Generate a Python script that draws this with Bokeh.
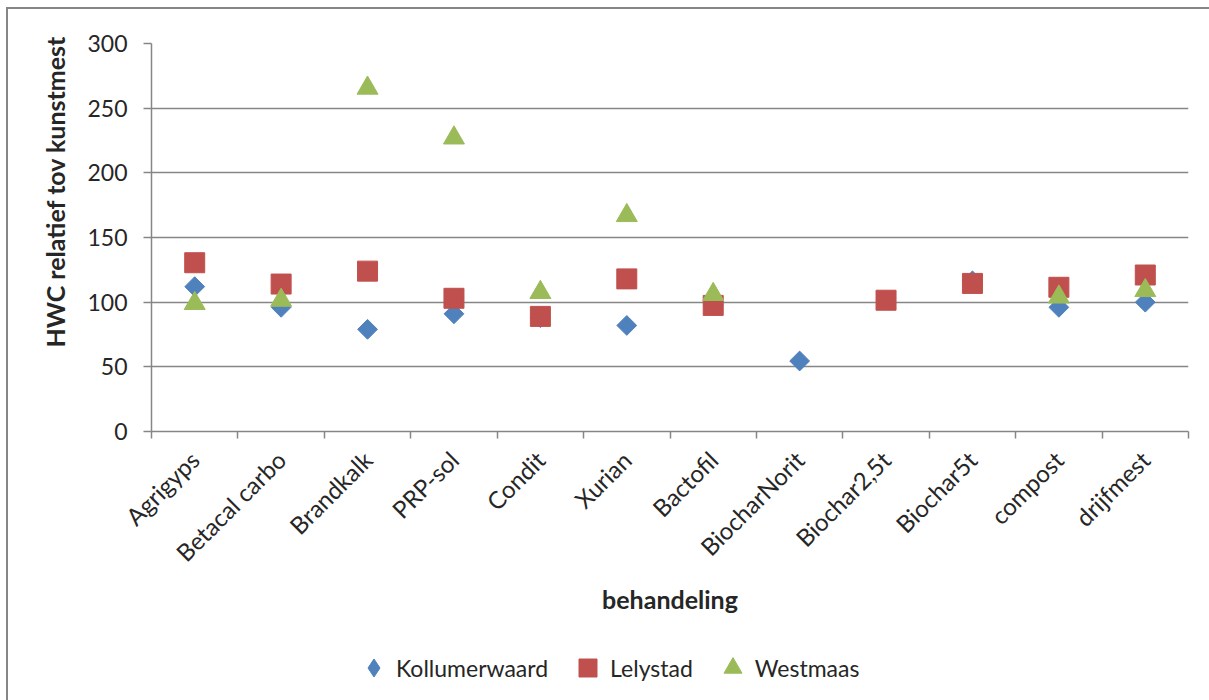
import math
import numpy as np
from bokeh.plotting import figure
from bokeh.layouts import column
from bokeh.models import (Range1d, LinearAxis, FixedTicker, Legend, LegendItem, Title,
                          ColumnDataSource)
from bokeh.embed import file_html
from bokeh.resources import INLINE

# ---------------- data ----------------
categories = ["Agrigyps", "Betacal carbo", "Brandkalk", "PRP-sol", "Condit", "Xurian",
              "Bactofil", "BiocharNorit", "Biochar2,5t", "Biochar5t", "compost", "drijfmest"]
kollumerwaard = [112, 96, 79, 91, 88, 82, 98, 54.5, np.nan, 116.5, 96, 100]
lelystad = [130.5, 114, 124, 103, 89, 118, 97.5, np.nan, 101.5, 114.5, 111.5, 121]
westmaas = [99, 101.5, 265.5, 227, 107.5, 167, 106, np.nan, np.nan, np.nan, 104, 109]
y_ticks = [0, 50, 100, 150, 200, 250, 300]
series_names = ["Kollumerwaard", "Lelystad", "Westmaas"]

FONT = "Lato"
TEXT = "#262626"
AXIS = "#868686"
COLORS = ["#4F81BD", "#C0504D", "#9BBB59"]
MARKERS = [("square", math.pi / 4, 14), ("square", 0, 20), ("triangle", 0, 21)]
LEGEND_MARKERS = ["diamond", "square", "triangle"]

n = len(categories)
centers = [i + 0.5 for i in range(n)]          # category slot centres
bounds = list(range(n + 1))                     # slot boundaries (tick marks)

p = figure(x_range=Range1d(0, n), y_range=Range1d(y_ticks[0], y_ticks[-1]),
           width=1201, height=622, output_backend="svg", toolbar_location=None,
           x_axis_location=None, y_axis_location="left",
           min_border_left=143, min_border_right=21, min_border_top=34, min_border_bottom=200)
p.outline_line_color = None
p.background_fill_color = "white"
p.border_fill_color = "white"

# y axis
p.yaxis.ticker = FixedTicker(ticks=y_ticks)
p.yaxis.axis_line_color = AXIS
p.yaxis.axis_line_width = 1.5
p.yaxis.major_tick_line_color = AXIS
p.yaxis.major_tick_line_width = 1.5
p.yaxis.major_tick_out = 8
p.yaxis.major_tick_in = 0
p.yaxis.minor_tick_line_color = None
p.yaxis.major_label_text_font = FONT
p.yaxis.major_label_text_font_size = "23px"
p.yaxis.major_label_text_color = TEXT
p.yaxis.major_label_standoff = 16
p.ygrid.grid_line_color = AXIS
p.ygrid.grid_line_width = 1.5
p.xgrid.visible = False

ytitle = Title(text="HWC relatief tov kunstmest", align="left", offset=84, standoff=30,
               text_font=FONT, text_font_style="bold", text_font_size="25px", text_color=TEXT)
p.add_layout(ytitle, "left")

# category axis: labels at slot centres, (minor) tick marks at slot boundaries
cat_axis = LinearAxis(ticker=FixedTicker(ticks=centers, minor_ticks=bounds),
                      major_label_overrides={c: name for c, name in zip(centers, categories)})
cat_axis.axis_line_color = AXIS
cat_axis.axis_line_width = 1.5
cat_axis.major_tick_line_color = None
cat_axis.major_tick_out = 7
cat_axis.major_tick_in = 0
cat_axis.minor_tick_line_color = AXIS
cat_axis.minor_tick_line_width = 1.5
cat_axis.minor_tick_out = 7
cat_axis.minor_tick_in = 0
cat_axis.major_label_orientation = math.pi / 4
cat_axis.major_label_text_font = FONT
cat_axis.major_label_text_font_size = "24px"
cat_axis.major_label_text_color = TEXT
cat_axis.major_label_standoff = 17
cat_axis.axis_label = "behandeling"
cat_axis.axis_label_text_font = FONT
cat_axis.axis_label_text_font_style = "bold"
cat_axis.axis_label_text_font_size = "25px"
cat_axis.axis_label_text_color = TEXT
cat_axis.axis_label_standoff = 4
p.add_layout(cat_axis, "below")

src = ColumnDataSource(dict(x=centers, k=kollumerwaard, l=lelystad, w=westmaas))
for col, color, (mk, ang, sz) in zip(["k", "l", "w"], COLORS, MARKERS):
    p.scatter("x", col, source=src, marker=mk, angle=ang, size=sz,
              fill_color=color, line_color=color)

# ---------------- legend strip ----------------
lg = figure(x_range=Range1d(0, n), y_range=Range1d(y_ticks[0], y_ticks[-1]),
            width=1201, height=69, output_backend="svg", toolbar_location=None,
            x_axis_location=None, y_axis_location=None, min_border=0)
lg.outline_line_color = None
lg.xgrid.visible = False
lg.ygrid.visible = False
items = []
for name, col, color, mk in zip(series_names, ["k", "l", "w"], COLORS, LEGEND_MARKERS):
    r = lg.scatter("x", col, source=src, marker=mk, size=18,
                   fill_color=color, line_color=color, visible=False)
    items.append(LegendItem(label=name, renderers=[r]))
legend = Legend(items=items, orientation="horizontal", location=(200, 10),
                glyph_width=45, glyph_height=45, label_standoff=-8, spacing=17,
                padding=0, margin=0, border_line_color=None, background_fill_alpha=0,
                inactive_fill_alpha=0,
                label_text_font=FONT, label_text_font_size="23px", label_text_color=TEXT)
lg.add_layout(legend)

layout = column(p, lg, spacing=0,
                styles={"border-left": "2px solid #868686", "border-top": "2px solid #868686",
                        "margin-left": "6px", "margin-top": "7px"})

open("out.html", "w").write(file_html(layout, INLINE))
